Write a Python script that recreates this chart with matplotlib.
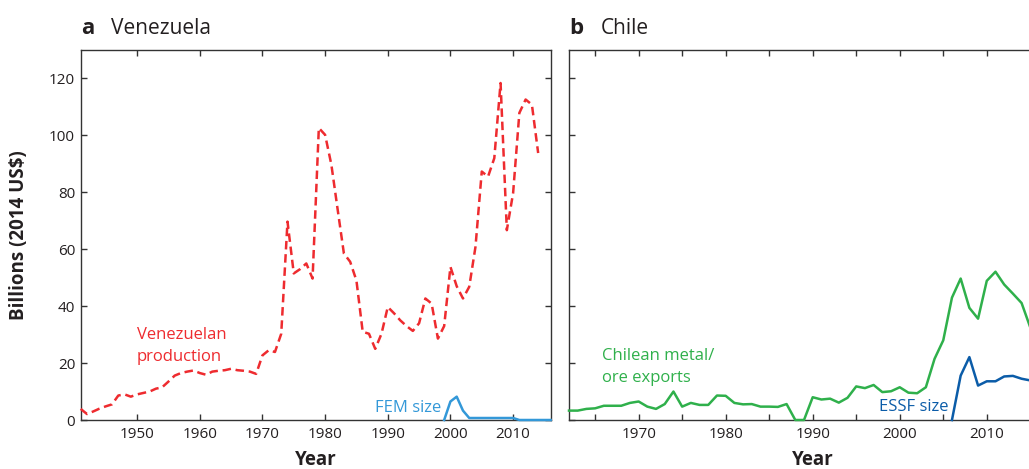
import matplotlib
matplotlib.use("Agg")
import matplotlib.pyplot as plt
from matplotlib.ticker import MultipleLocator

plt.rcParams['font.family'] = ['Open Sans', 'DejaVu Sans']

# ---------------- data ----------------
ven_years = list(range(1941, 2015))
ven_prod = [3.9, 2.1, 3.0, 4.0, 4.8, 5.5, 8.6, 9.0, 8.2, 9.0,
            9.5, 10.0, 11.0, 11.5, 13.5, 15.6, 16.5, 17.0, 17.4, 16.5,
            15.9, 17.0, 17.3, 17.5, 18.0, 17.5, 17.3, 17.0, 16.2, 22.7,
            24.5, 23.9, 30.3, 69.7, 51.5, 53.0, 55.0, 49.7, 102.6, 100.2,
            89.7, 74.0, 58.5, 55.6, 49.0, 31.0, 30.3, 25.0, 30.3, 39.7,
            37.5, 35.0, 33.0, 31.3, 34.0, 42.7, 40.9, 28.6, 33.0, 53.8,
            47.0, 42.7, 46.8, 60.9, 87.3, 85.5, 92.0, 118.4, 66.7, 79.7,
            107.9, 112.6, 110.8, 93.8]

fem_years = list(range(1999, 2017))
fem_size = [0.0, 6.5, 8.2, 3.3, 0.7, 0.7, 0.7, 0.7, 0.7, 0.7,
            0.7, 0.7, 0.0, 0.0, 0.0, 0.0, 0.0, 0.0]

chl_years = list(range(1962, 2016))
chl_exports = [3.3, 3.3, 3.9, 4.1, 5.0, 5.0, 5.0, 6.0, 6.5, 4.7,
               3.9, 5.6, 10.0, 4.7, 6.0, 5.3, 5.3, 8.6, 8.5, 6.0,
               5.5, 5.6, 4.7, 4.7, 4.6, 5.6, 0.0, 0.0, 8.0, 7.2,
               7.5, 6.1, 7.8, 11.8, 11.2, 12.3, 9.8, 10.1, 11.5, 9.6,
               9.4, 11.5, 21.5, 28.0, 43.0, 49.7, 39.4, 35.6, 48.9, 52.1,
               47.6, 44.4, 41.1, 32.5]

essf_years = list(range(2006, 2016))
essf_size = [0.0, 15.6, 22.1, 12.1, 13.6, 13.6, 15.3, 15.5, 14.5, 13.9]

y_ticks = [0, 20, 40, 60, 80, 100, 120]

# ---------------- styling ----------------
RED = '#ee2b2f'
FEM_BLUE = '#3398d8'
GREEN = '#2fb04b'
ESSF_BLUE = '#0b5ca8'
SPINE = '#333333'
TXT = '#231f20'

W, H = 1029, 469
fig = plt.figure(figsize=(W / 100, H / 100), dpi=100)

ax_a = fig.add_axes([80.7 / W, 49 / H, 470 / W, 370 / H])
ax_b = fig.add_axes([569 / W, 49 / H, 470 / W, 370 / H])

for ax in (ax_a, ax_b):
    for s in ax.spines.values():
        s.set_color(SPINE)
        s.set_linewidth(1.0)
    ax.set_ylim(0, 130)
    ax.set_yticks(y_ticks)
    ax.tick_params(axis='both', which='both', direction='in', length=4.5,
                   width=1.0, color=SPINE, top=True, right=True,
                   labelsize=11, labelcolor=TXT)
    ax.tick_params(axis='y', pad=4)
    ax.tick_params(axis='x', pad=5)

# panel a
ax_a.plot(ven_years, ven_prod, color=RED, lw=1.8, dashes=(3.4, 1.9),
          clip_on=False, zorder=3)
ax_a.plot(fem_years, fem_size, color=FEM_BLUE, lw=1.8, clip_on=False, zorder=3)
ax_a.set_xlim(1941, 2016)
ax_a.set_xticks([1950, 1960, 1970, 1980, 1990, 2000, 2010])
ax_a.set_ylabel('Billions (2014 US$)', fontsize=13.5, fontweight='bold',
                color=TXT)
ax_a.yaxis.set_label_coords(-0.11, 0.5)
ax_a.set_xlabel('Year', fontsize=13.5, fontweight='bold', color=TXT)
ax_a.xaxis.set_label_coords(0.5, -0.08)

ax_a.text(1950.0, 28.6, 'Venezuelan', color=RED, fontsize=12, va='baseline')
ax_a.text(1950.0, 20.9, 'production', color=RED, fontsize=12, va='baseline')
ax_a.text(1988.0, 2.9, 'FEM size', color=FEM_BLUE, fontsize=12, va='baseline')

# panel b
ax_b.plot(chl_years, chl_exports, color=GREEN, lw=1.8, clip_on=False, zorder=3)
ax_b.plot(essf_years, essf_size, color=ESSF_BLUE, lw=1.8, clip_on=False, zorder=3)
ax_b.set_xlim(1962, 2016)
ax_b.xaxis.set_major_locator(MultipleLocator(10))
ax_b.xaxis.set_minor_locator(MultipleLocator(5))
ax_b.tick_params(axis='x', which='minor', length=4.5)
ax_b.set_yticklabels([])
ax_b.set_xlabel('Year', fontsize=13.5, fontweight='bold', color=TXT)
ax_b.xaxis.set_label_coords(0.519, -0.08)

ax_b.text(1965.8, 21.2, 'Chilean metal/', color=GREEN, fontsize=12, va='baseline')
ax_b.text(1965.8, 13.2, 'ore exports', color=GREEN, fontsize=12, va='baseline')
ax_b.text(1997.6, 3.0, 'ESSF size', color=ESSF_BLUE, fontsize=12, va='baseline')

# panel titles
ty = (H - 34) / H
fig.text(81 / W, ty, 'a', fontsize=16, fontweight='bold', color=TXT, va='baseline')
fig.text(111 / W, ty, 'Venezuela', fontsize=15, color=TXT, va='baseline')
fig.text(569 / W, ty, 'b', fontsize=16, fontweight='bold', color=TXT, va='baseline')
fig.text(601 / W, ty, 'Chile', fontsize=15, color=TXT, va='baseline')

fig.savefig('out.png', dpi=100)
